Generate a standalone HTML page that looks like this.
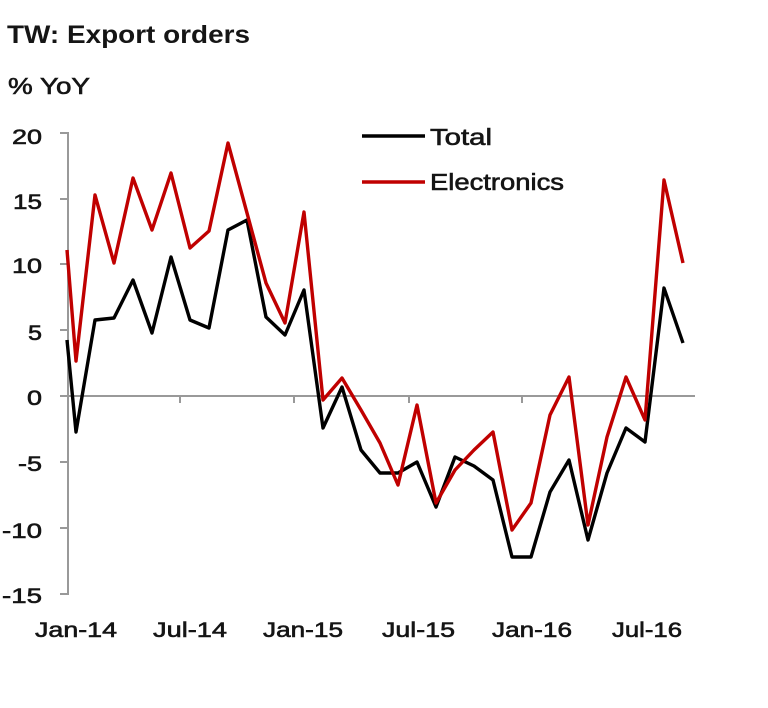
<!DOCTYPE html>
<html><head><meta charset="utf-8"><style>
html,body{margin:0;padding:0;background:#fff;}
svg{display:block;}
text{font-family:"Liberation Sans",sans-serif;fill:#151515;}
</style></head><body>
<svg width="768" height="708" viewBox="0 0 768 708" xmlns="http://www.w3.org/2000/svg">
<rect width="768" height="708" fill="#fff"/>
<text x="7" y="43" font-size="25" font-weight="bold" textLength="243" lengthAdjust="spacingAndGlyphs">TW: Export orders</text>
<g stroke="#151515" stroke-width="0.6">
<text x="8" y="94" font-size="23" textLength="82" lengthAdjust="spacingAndGlyphs">% YoY</text>
<g font-size="21" text-anchor="end">
<text x="42" y="144" textLength="30" lengthAdjust="spacingAndGlyphs">20</text>
<text x="42" y="209" textLength="29" lengthAdjust="spacingAndGlyphs">15</text>
<text x="42" y="273" textLength="30" lengthAdjust="spacingAndGlyphs">10</text>
<text x="42" y="340" textLength="14" lengthAdjust="spacingAndGlyphs">5</text>
<text x="42" y="405" textLength="15" lengthAdjust="spacingAndGlyphs">0</text>
<text x="42" y="471" textLength="24" lengthAdjust="spacingAndGlyphs">-5</text>
<text x="42" y="538" textLength="40" lengthAdjust="spacingAndGlyphs">-10</text>
<text x="42" y="603" textLength="40" lengthAdjust="spacingAndGlyphs">-15</text>
</g>
<g font-size="21">
<text x="35" y="637" textLength="82" lengthAdjust="spacingAndGlyphs">Jan-14</text>
<text x="153" y="637" textLength="74" lengthAdjust="spacingAndGlyphs">Jul-14</text>
<text x="263" y="637" textLength="80" lengthAdjust="spacingAndGlyphs">Jan-15</text>
<text x="382" y="637" textLength="73" lengthAdjust="spacingAndGlyphs">Jul-15</text>
<text x="492" y="637" textLength="80" lengthAdjust="spacingAndGlyphs">Jan-16</text>
<text x="612" y="637" textLength="70" lengthAdjust="spacingAndGlyphs">Jul-16</text>
</g>
<text x="430" y="145" font-size="23" textLength="62" lengthAdjust="spacingAndGlyphs">Total</text>
<text x="430" y="190" font-size="23" textLength="134" lengthAdjust="spacingAndGlyphs">Electronics</text>
</g>
<g stroke="#999" stroke-width="2" fill="none">
<line x1="68" y1="132" x2="68" y2="595"/>
<line x1="60" y1="133" x2="68" y2="133"/>
<line x1="60" y1="199" x2="68" y2="199"/>
<line x1="60" y1="264" x2="68" y2="264"/>
<line x1="60" y1="330" x2="68" y2="330"/>
<line x1="60" y1="396" x2="68" y2="396"/>
<line x1="60" y1="462" x2="68" y2="462"/>
<line x1="60" y1="528" x2="68" y2="528"/>
<line x1="60" y1="594" x2="68" y2="594"/>
<line x1="68" y1="396" x2="695" y2="396"/>
<line x1="180" y1="396" x2="180" y2="403"/>
<line x1="294" y1="396" x2="294" y2="403"/>
<line x1="409" y1="396" x2="409" y2="403"/>
<line x1="522" y1="396" x2="522" y2="403"/>
</g>
<polyline fill="none" stroke="#000" stroke-width="3.4" stroke-linejoin="round" points="67,340 76,432 95,320 114,318 133,280 152,333 171,257 190,320 209,328 228,230 247,220 266,317 285,335 304,290 323,428 342,387 361,450 380,473 398,473 417,462 436,507 455,457 474,466 493,480 512,557 531,557 550,492 569,460 588,540 607,473 626,428 645,442 664,288 683,343"/>
<polyline fill="none" stroke="#c00000" stroke-width="3.4" stroke-linejoin="round" points="67,250 76,361 95,195 114,263 133,178 152,230 171,173 190,248 209,231 228,143 247,213 266,283 285,323 304,212 323,400 342,378 361,410 380,443 398,485 417,405 436,503 455,470 474,450 493,432 512,530 531,503 550,415 569,377 588,525 607,437 626,377 645,420 664,180 683,263"/>
<line x1="362" y1="136" x2="425" y2="136" stroke="#000" stroke-width="3.5"/>
<line x1="362" y1="182" x2="425" y2="182" stroke="#c00000" stroke-width="3.5"/>
</svg>
</body></html>
